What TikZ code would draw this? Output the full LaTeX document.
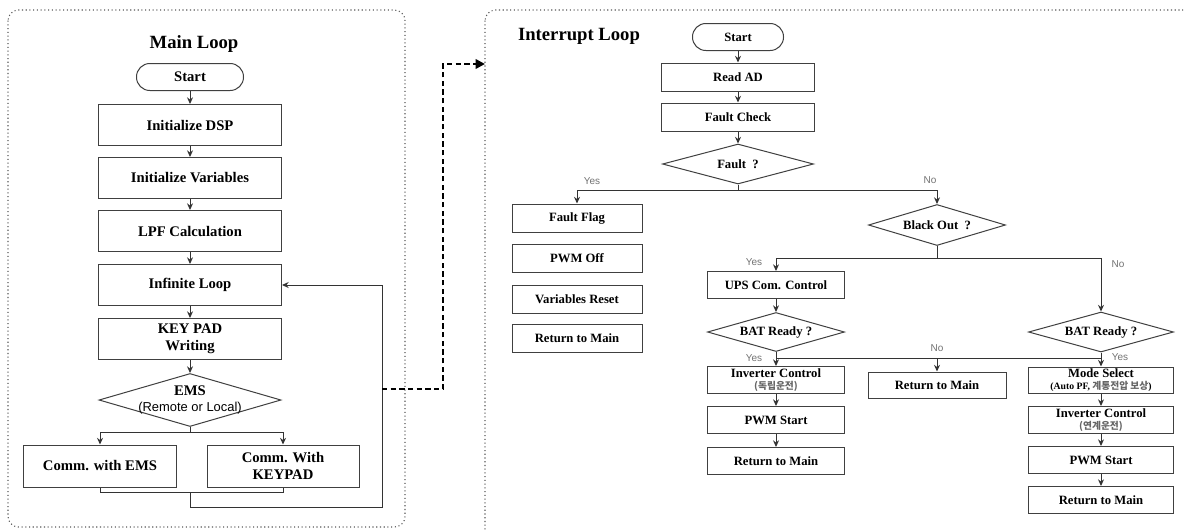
\documentclass[tikz,border=0pt]{standalone}
\usepackage{fontspec}
\setmainfont{Liberation Serif}
\newfontfamily\sansf{Liberation Sans}
\newfontfamily\krf{Noto Sans CJK KR}
\usetikzlibrary{shapes.geometric,arrows.meta}
\newcommand{\zw}[1]{\makebox[0pt]{#1}}
\newcommand{\krsub}[1]{{\krf\fontsize{7.3}{7.5}\selectfont\color{black!60}#1}}
\begin{document}
\begin{tikzpicture}[x=0.75pt,y=-0.75pt,
  base/.style={draw=black!75, line width=0.75pt, fill=white, align=center, inner sep=1pt},
  lbox/.style={base, font=\fontsize{11}{13}\selectfont\bfseries},
  rbox/.style={base, font=\fontsize{9.5}{10.5}\selectfont\bfseries},
  sz/.style 2 args={minimum width=#1*0.75pt, minimum height=#2*0.75pt},
  term/.style={rounded corners=10pt},
  dec/.style={diamond, inner sep=0pt},
  ttl/.style={font=\fontsize{14}{16}\selectfont\bfseries},
  ln/.style={draw=black!80, line width=0.75pt},
  arr/.style={ln, -{Stealth[length=5pt,width=4.5pt]}},
  yn/.style={font=\sansf\fontsize{7.5}{9}\selectfont, text=black!55, inner sep=0pt},
  panel/.style={draw=black!65, line width=0.8pt, dotted, rounded corners=8pt},
  dasharr/.style={draw=black, line width=1.8pt, dash pattern=on 4pt off 2.5pt, -{Triangle[length=7pt,width=7pt]}}
]
\useasboundingbox (0,0) rectangle (1184,529);
\fill[white] (0,0) rectangle (1184,529);

% panels
\draw[panel] (8,10) rectangle (405,527);
\begin{scope}
  \clip (0,0) rectangle (1184,529);
  \draw[panel] (485,10) rectangle (1200,545);
\end{scope}

% ---------------- Main loop ----------------
\node[ttl] (mt) at (194,44) {Main Loop};
\node[lbox, sz={107}{27}, term] (ms) at (190,77) {Start};
\node[lbox, sz={183}{41}] (m1) at (190,125) {Initialize DSP};
\node[lbox, sz={183}{41}] (m2) at (190,178) {Initialize Variables};
\node[lbox, sz={183}{41}] (m3) at (190,231) {LPF Calculation};
\node[lbox, sz={183}{41}] (m4) at (190,285) {Infinite Loop};
\node[lbox, sz={183}{41}] (m5) at (190,339) {KEY PAD\\Writing};
\node[lbox, dec, sz={182}{53}] (ems) at (190,400)
  {\zw{EMS}\\[-1pt]\zw{\sansf\mdseries\fontsize{9.7}{11}\selectfont(Remote or Local)}};
\node[lbox, sz={153}{42}] (c1) at (100,466) {Comm. with EMS};
\node[lbox, sz={152}{42}] (c2) at (283,466) {Comm. With\\KEYPAD};

\draw[arr] (ms) -- (m1);
\draw[arr] (m1) -- (m2);
\draw[arr] (m2) -- (m3);
\draw[arr] (m3) -- (m4);
\draw[arr] (m4) -- (m5);
\draw[arr] (m5) -- (ems);
\coordinate (eb) at (190,432);
\draw[ln] (ems.south) -- (eb);
\draw[arr] (eb) -| (c1.north);
\draw[arr] (eb) -| (c2.north);
\coordinate (mm) at (190,492);
\coordinate (lp) at (382,507);
\draw[ln] (c1.south) |- (mm) -| (c2.south);
\draw[arr] (mm) |- (lp) |- (m4.east);

% dashed link
\coordinate (d0) at (382,389);
\coordinate (d1) at (443,64);
\coordinate (d2) at (485,64);
\draw[dasharr] (d0) -| (d1) -- (d2);

% ---------------- Interrupt loop ----------------
\node[ttl] (it) at (579,36) {Interrupt Loop};
\node[rbox, sz={91}{27}, term] (rs) at (738,37) {Start};
\node[rbox, sz={153}{28}] (ra) at (738,77) {Read AD};
\node[rbox, sz={153}{28}] (rf) at (738,117) {Fault Check};
\node[rbox, dec, sz={151}{40}] (fq) at (738,164) {\zw{Fault\ \ ?}};

\node[rbox, sz={130}{28}] (ff) at (577,218) {Fault Flag};
\node[rbox, sz={130}{28}] (po) at (577,258) {PWM Off};
\node[rbox, sz={130}{28}] (vr) at (577,299) {Variables Reset};
\node[rbox, sz={130}{28}] (rl) at (577,338) {Return to Main};

\node[rbox, dec, sz={137}{41}] (bo) at (937,225) {\zw{Black Out\ \ ?}};

\node[rbox, sz={137}{27}] (ups) at (776,285) {UPS Com. Control};
\node[rbox, dec, sz={137}{39}] (b1) at (776,332) {\zw{BAT Ready ?}};
\node[rbox, sz={137}{27}] (iv1) at (776,380) {Inverter Control\\[-1.5pt]\krsub{(독립운전)}};
\node[rbox, sz={137}{27}] (pw1) at (776,420) {PWM Start};
\node[rbox, sz={137}{27}] (rt1) at (776,461) {Return to Main};

\node[rbox, sz={138}{26}] (rtm) at (937,385) {Return to Main};

\node[rbox, dec, sz={145}{40}] (b2) at (1101,332) {\zw{BAT Ready ?}};
\node[rbox, sz={145}{26}] (mo) at (1101,380) {Mode Select\\[-1.5pt]{\fontsize{7.3}{7.5}\selectfont(Auto PF, \krsub{계통전압 보상})}};
\node[rbox, sz={145}{27}] (iv2) at (1101,420) {Inverter Control\\[-1.5pt]\krsub{(연계운전)}};
\node[rbox, sz={145}{27}] (pw2) at (1101,460) {PWM Start};
\node[rbox, sz={145}{27}] (rt2) at (1101,500) {Return to Main};

\draw[arr] (rs) -- (ra);
\draw[arr] (ra) -- (rf);
\draw[arr] (rf) -- (fq);
\coordinate (fb) at (738,190);
\draw[ln] (fq.south) -- (fb);
\draw[arr] (fb) -| (ff.north);
\draw[arr] (fb) -| (bo.north);
\node[yn] (ly1) at (592,181) {Yes};
\node[yn] (ln1) at (930,180) {No};

\coordinate (bb) at (937,258);
\draw[ln] (bo.south) -- (bb);
\draw[arr] (bb) -| (ups.north);
\draw[arr] (bb) -| (b2.north);
\node[yn] (ly2) at (754,262) {Yes};
\node[yn] (ln2) at (1118,264) {No};

\draw[arr] (ups) -- (b1);
\coordinate (y1) at (776,358);
\coordinate (y2) at (1101,358);
\coordinate (y3) at (937,358);
\draw[ln] (b1.south) -- (y1);
\draw[arr] (y1) -- (iv1.north);
\draw[arr] (b2.south) -- (mo.north);
\draw[ln] (y1) -- (y2);
\draw[arr] (y3) -- (rtm.north);
\node[yn] (ly3) at (754,358) {Yes};
\node[yn] (ln3) at (937,348) {No};
\node[yn] (ly4) at (1120,357) {Yes};

\draw[arr] (iv1) -- (pw1);
\draw[arr] (pw1) -- (rt1);
\draw[arr] (mo) -- (iv2);
\draw[arr] (iv2) -- (pw2);
\draw[arr] (pw2) -- (rt2);
\end{tikzpicture}
\end{document}
